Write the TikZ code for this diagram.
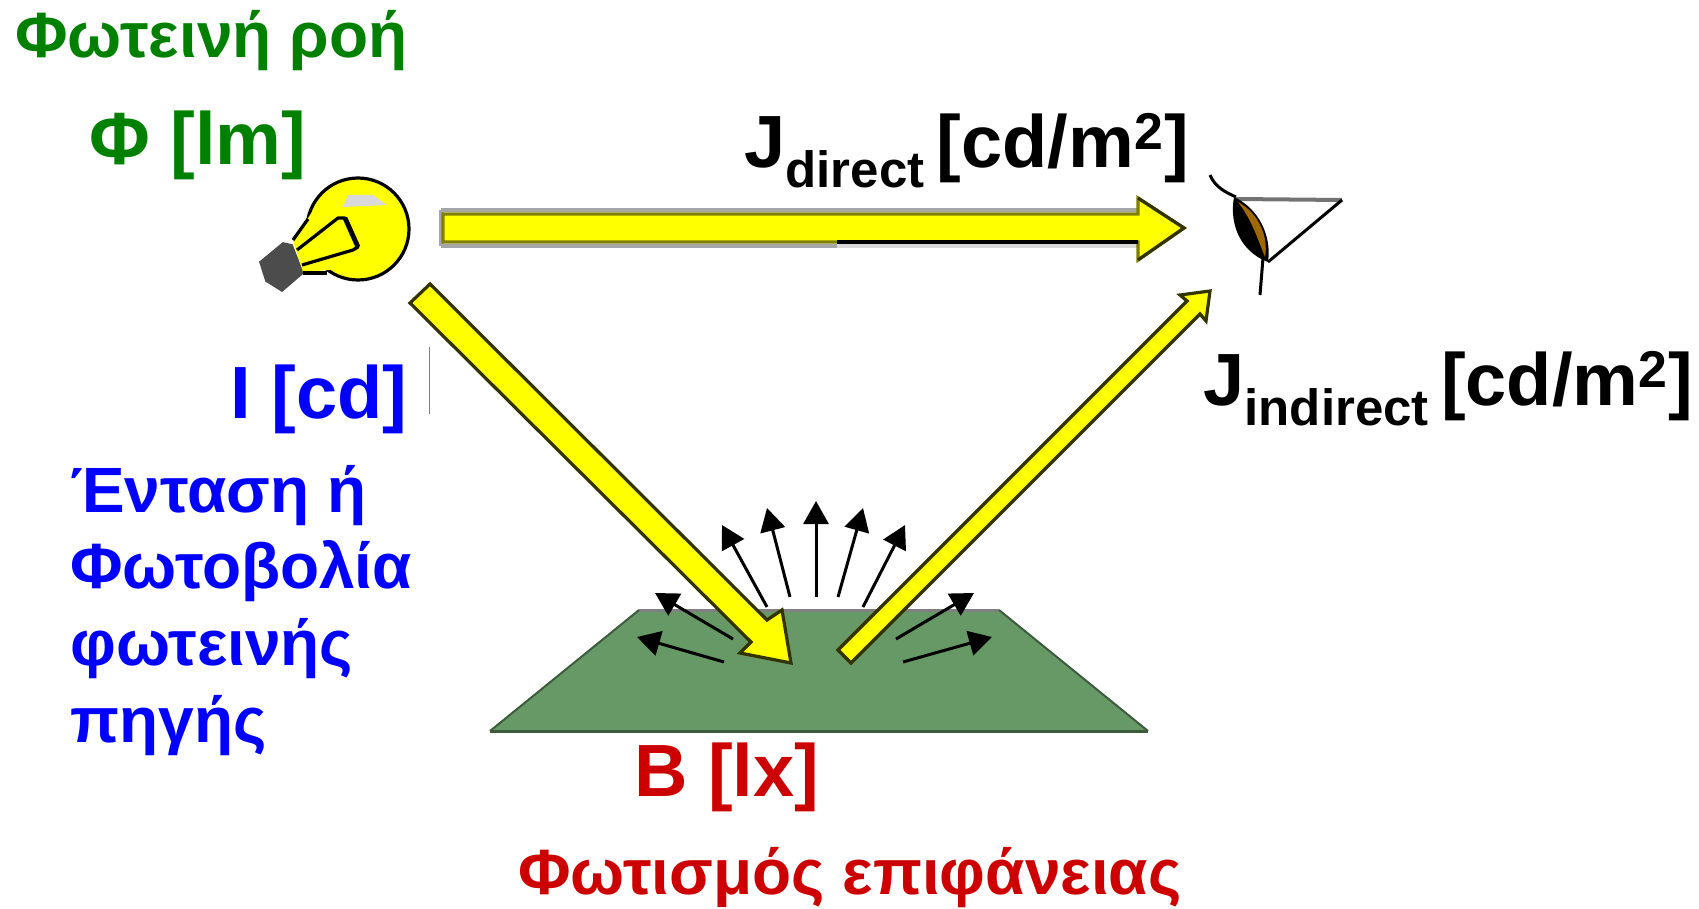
\documentclass[tikz,border=0pt]{standalone}
\usepackage{fontspec}
\setmainfont{Liberation Sans}
\usepackage{xcolor}
\usepackage{tikz}
\usetikzlibrary{arrows.meta,positioning}

\definecolor{fluxgreen}{HTML}{008000}
\definecolor{intblue}{HTML}{0000FF}
\definecolor{illumred}{HTML}{CC0000}
\definecolor{surfgreen}{HTML}{669966}
\definecolor{rayyellow}{HTML}{FFFF00}
\definecolor{rayedge}{HTML}{333300}
\definecolor{rayolive}{HTML}{808000}
\definecolor{irisbrown}{HTML}{A06800}

\newcommand{\lumsub}[1]{\raisebox{-0.27em}{\fontsize{25.5}{25.5}\selectfont #1}}

\begin{document}
\begin{tikzpicture}[
  x=0.5pt, y=-0.5pt,
  every node/.style={font=\bfseries, inner sep=0pt, anchor=base west},
  bigsize/.style={font=\fontsize{37}{37}\selectfont\bfseries},
  greeksize/.style={font=\fontsize{32}{32}\selectfont\bfseries},
  ray/.style={draw=rayedge, fill=rayyellow, line width=1.6pt, line join=miter},
  arr/.style={-{Triangle[length=11.5pt,width=12.5pt]}, line width=1.5pt, black},
]
\useasboundingbox (0,0) rectangle (1699,909);

% Surface
\fill[surfgreen] (490,731) -- (639,610) -- (999,610) -- (1148,731) -- cycle;
\draw[gray, line width=1.5pt] (639,610) -- (999,610);
\draw[surfgreen!60!black, line width=1pt] (639,610) -- (490,731);
\draw[surfgreen!60!black, line width=1.5pt] (490,731) -- (1148,731);
\draw[surfgreen!60!black, line width=1pt] (1148,731) -- (999,610);

% Scattered light
\coordinate (s1) at (816,597);  \coordinate (e1) at (816,501);
\coordinate (s2) at (790,597);  \coordinate (e2) at (767,508);
\coordinate (s3) at (767,607);  \coordinate (e3) at (722,525);
\coordinate (s4) at (838,597);  \coordinate (e4) at (863,508);
\coordinate (s5) at (863,607);  \coordinate (e5) at (905,525);
\coordinate (s6) at (733,639);  \coordinate (e6) at (655,593);
\coordinate (s7) at (724,662);  \coordinate (e7) at (637,637);
\coordinate (s8) at (896,639);  \coordinate (e8) at (974,593);
\coordinate (s9) at (903,662);  \coordinate (e9) at (992,637);
\draw[arr] (s1) -- (e1);
\draw[arr] (s2) -- (e2);
\draw[arr] (s3) -- (e3);
\draw[arr] (s4) -- (e4);
\draw[arr] (s5) -- (e5);
\draw[arr] (s6) -- (e6);
\draw[arr] (s7) -- (e7);
\draw[arr] (s8) -- (e8);
\draw[arr] (s9) -- (e9);

% Yellow rays
\draw[gray!70, line width=2pt] (441,210.5) -- (1138,210.5);
\draw[gray!70, line width=2pt] (441,246) -- (837,246);
\draw[gray!30, line width=2pt] (837,246) -- (1138,246);
\draw[gray!70, line width=2pt] (441,210.5) -- (441,246);
\draw[ray, draw=rayolive] (443,214) -- (1138,214) -- (1138,198) -- (1184,228) -- (1138,260)
  -- (1138,242) -- (443,242) -- cycle;
\draw[black, line width=2pt] (837,242) -- (1138,242);
\draw[rayedge, line width=1.6pt] (1138,198) -- (1184,228) -- (1138,260);
\draw[ray] (430,284) -- (767,620) -- (782,610) -- (791,663) -- (740,653)
  -- (751,642) -- (410,303) -- cycle;
\draw[ray] (838,650) -- (1187,301) -- (1180,295) -- (1210,291) -- (1206,321)
  -- (1200,314) -- (851,663) -- cycle;

% Lamp
\filldraw[black!70, line width=0.8pt] (260,262) -- (283,243) -- (292,245) -- (303,273) -- (282,291)
  -- (266,281) -- cycle;
\draw[black, fill=rayyellow, line width=1.6pt] (358,229) circle (51);
\fill[rayyellow] (293,241) -- (312,212) -- (330,270) -- (303,272) -- cycle;
\draw[black, line width=1.6pt] (293,240) -- (308,219);
\draw[black, line width=1.6pt] (303,273) -- (327,273);
\fill[gray!30] (343,207) -- (348,195) -- (373,195) -- (387,205) -- cycle;
\draw[black, line width=1.6pt, line join=round] (297,250) -- (338,218) -- (345,218)
  -- (358,247) -- (353,250) -- (302,265);
\draw[black, line width=2.4pt] (345,218) -- (358,247);

% Eye
\draw[black, line width=1.5pt] (1210,175) .. controls (1215,187) and (1225,192) .. (1236,197);
\draw[black!55, line width=2pt] (1236,199) -- (1342,200);
\draw[black, line width=1.5pt] (1342,200) -- (1268,262);
\draw[black, line width=1.5pt] (1263,258) -- (1260,295);
\fill[black] (1234,197) .. controls (1229,225) and (1241,252) .. (1268,262)
  .. controls (1272,235) and (1258,208) .. cycle;
\fill[irisbrown] (1238,202) .. controls (1252,220) and (1258,240) .. (1265,257)
  .. controls (1269,235) and (1257,212) .. cycle;

% Labels
\node[greeksize, fluxgreen] (fluxname) at (15,58) {Φωτεινή ροή};
\node[bigsize, fluxgreen] (fluxunit) at (89,165) {Φ [lm]};
\node[bigsize, intblue] (intunit) at (230,419) {I [cd]};
\draw[gray, line width=0.5pt] (429,347) -- (429,414);
\node[greeksize, intblue] (int1) at (70,512) {Ένταση ή};
\node[greeksize, intblue] (int2) at (70,588) {Φωτοβολία};
\node[greeksize, intblue] (int3) at (70,665) {φωτεινής};
\node[greeksize, intblue] (int4) at (70,742) {πηγής};
\node[bigsize, illumred] (illumunit) at (634,796) {B [lx]};
\node[greeksize, illumred] (illumname) at (518,894) {Φωτισμός επιφάνειας};
\node[bigsize, black] (jdirect) at (744,168) {J\lumsub{direct}\hspace{-0.11em} [cd/m\textsuperscript{2}]};
\node[bigsize, black] (jindirect) at (1203,406) {J\lumsub{indirect}\hspace{-0.11em} [cd/m\textsuperscript{2}]};

\end{tikzpicture}
\end{document}
